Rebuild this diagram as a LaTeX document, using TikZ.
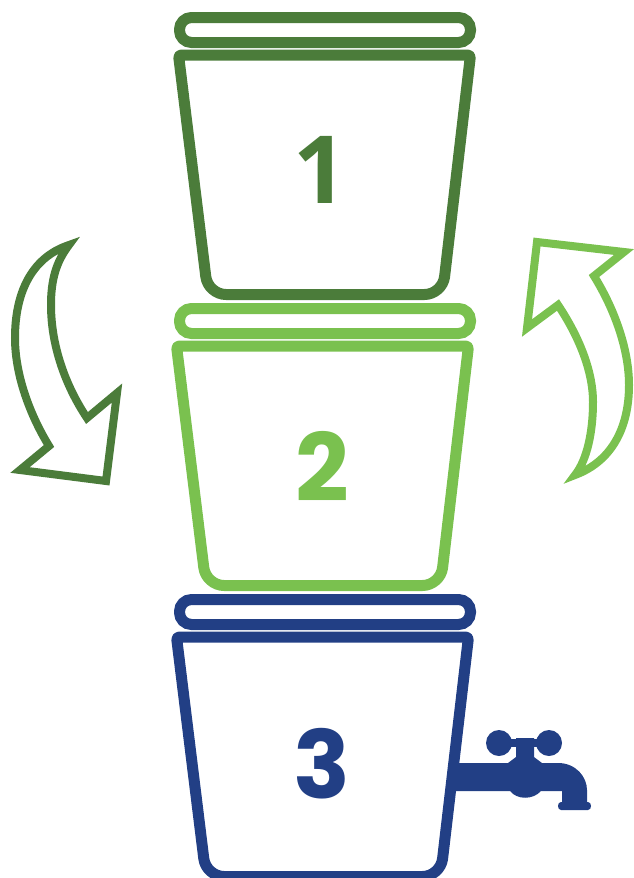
\documentclass[tikz,border=0pt]{standalone}
\usepackage{fontspec}
\setmainfont{Poppins}
\newfontfamily\onefont{Open Sans}
\usetikzlibrary{positioning}
\definecolor{darkgreen}{RGB}{75,124,58}
\definecolor{lightgreen}{RGB}{122,193,79}
\definecolor{navyblue}{RGB}{34,63,133}

\begin{document}
\begin{tikzpicture}[
    x=1pt, y=-1pt,
    lid/.style={line width=11pt, rounded corners=12pt},
    tub/.style={line width=11pt, line join=round},
    swoosh/.style={line width=8pt, line join=miter, miter limit=20},
    digit/.style={font=\fontsize{94}{94}\selectfont\bfseries, inner sep=0pt}
]
    \useasboundingbox (0,0) rectangle (634,878);

    % Top bucket
    \draw[lid, darkgreen] (179.5,17.5) rectangle (470.5,42.5);
    \draw[tub, darkgreen] (320,55) [rounded corners=3pt] -- (470.5,55) [rounded corners=18pt]
        -- (442.5,294.5) -- (208,294.5) [rounded corners=3pt] -- (178.5,55) -- cycle;
    \node[digit, text=darkgreen] (one) at (320,170) {\onefont 1};

    % Middle bucket
    \draw[lid, lightgreen] (179.5,308.5) rectangle (470.5,333.5);
    \draw[tub, lightgreen] (320,346) [rounded corners=3pt] -- (468.5,346) [rounded corners=18pt]
        -- (440.5,585.5) -- (206,585.5) [rounded corners=3pt] -- (176.5,346) -- cycle;
    \node[digit, text=lightgreen] (two) at (322,466) {2};

    % Bottom bucket
    \draw[lid, navyblue] (179.5,599.5) rectangle (470.5,624.5);
    \draw[tub, navyblue] (320,637) [rounded corners=3pt] -- (468.5,637) [rounded corners=18pt]
        -- (440.5,876.5) -- (206,876.5) [rounded corners=3pt] -- (176.5,637) -- cycle;
    \node[digit, text=navyblue] (three) at (322,764) {3};

    % Tap
    \fill[navyblue] (454,763) -- (508,763) -- (516,757) -- (516,738) -- (534,738) -- (534,757)
        -- (542,763) -- (558,763) .. controls (576,763) and (587,777) .. (587,790)
        -- (587,802) -- (588,802) .. controls (592,802) and (592,810) .. (588,810)
        -- (561,810) .. controls (557,810) and (557,802) .. (561,802)
        -- (562,802) -- (562,791) -- (541,791) .. controls (533,800) and (517,800) .. (510,791)
        -- (451,791) -- cycle;
    \fill[navyblue] (499,739) rectangle (549,747);
    \fill[navyblue] (499,743) circle (13);
    \fill[navyblue] (549,743) circle (13);

    % Left swoosh
    \draw[swoosh, darkgreen] (69,245) .. controls (30,258) and (15,295) .. (15,338)
        .. controls (15,375) and (30,415) .. (49,446)
        -- (20,470) -- (106,481) -- (117,393) -- (87,418)
        .. controls (65,385) and (51,345) .. (51,305)
        .. controls (51,280) and (56,262) .. (69,245) -- cycle;

    % Right swoosh
    \draw[swoosh, lightgreen] (537,242) -- (624,252) -- (594,276)
        .. controls (615,310) and (629,350) .. (629,385)
        .. controls (629,430) and (610,462) .. (575,475)
        .. controls (587,460) and (593,432) .. (593,402)
        .. controls (593,370) and (578,335) .. (558,305)
        -- (527,328) -- cycle;
\end{tikzpicture}
\end{document}
